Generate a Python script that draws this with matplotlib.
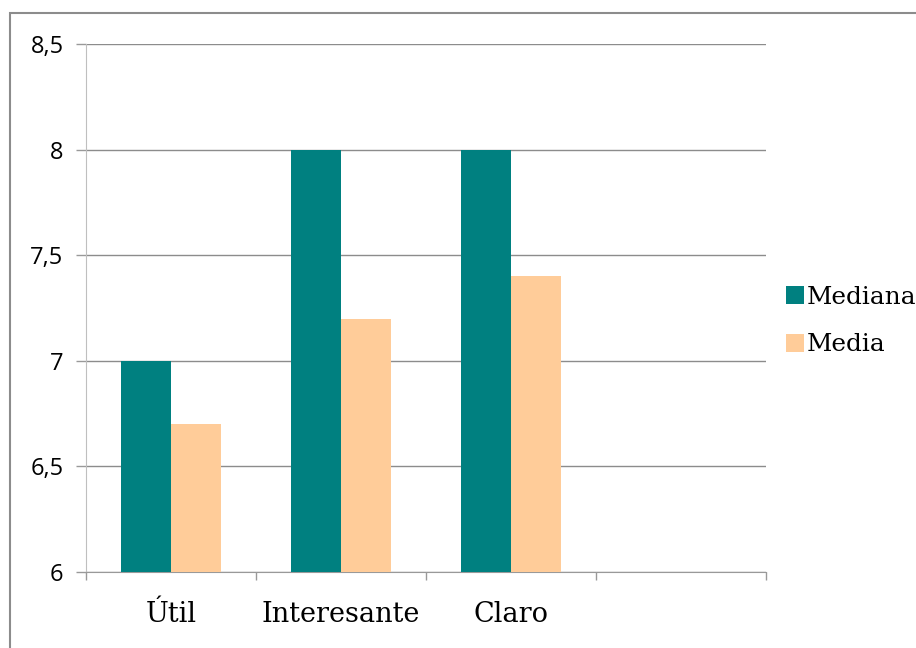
import matplotlib.pyplot as plt
import matplotlib.patches as patches
import numpy as np

# datos
categorias = ["Útil", "Interesante", "Claro"]
mediana = [7, 8, 8]
media = [6.7, 7.2, 7.4]
n_slots = 4  # la cuarta categoria esta vacia
y_ticks = [6, 6.5, 7, 7.5, 8, 8.5]
y_labels = ["6", "6,5", "7", "7,5", "8", "8,5"]

fig = plt.figure(figsize=(9.16, 6.48), dpi=100)
ax = fig.add_axes([86/916, 1 - 572/648, 680/916, 528/648])

x = np.arange(len(categorias))
w = 50/170
ax.bar(x - w/2, np.array(mediana) - 6, width=w, bottom=6, color="#008080", label="Mediana", zorder=3)
ax.bar(x + w/2, np.array(media) - 6, width=w, bottom=6, color="#FFCC99", label="Media", zorder=3)

ax.set_xlim(-0.5, n_slots - 0.5)
ax.set_ylim(6, 8.5)
ax.set_yticks(y_ticks)
ax.set_yticklabels(y_labels, fontsize=17, family="Open Sans")
ax.yaxis.grid(True, color="#8c8c8c", linewidth=1, zorder=0)

ax.set_xticks(np.arange(-0.5, n_slots, 1))
ax.set_xticklabels([])
ax.set_xticks(x, minor=True)
ax.set_xticklabels(categorias, minor=True, fontsize=19.5, family="DejaVu Serif")
ax.tick_params(axis="x", which="minor", length=0, pad=21)
ax.tick_params(axis="x", which="major", length=6, color="#999999", width=1)
ax.tick_params(axis="y", length=7.2, color="#999999", width=1, pad=9)

for s in ["top", "right"]:
    ax.spines[s].set_visible(False)
ax.spines["left"].set_color("#bfbfbf")
ax.spines["bottom"].set_color("#999999")

ax.legend(loc="center left", bbox_to_anchor=(786/916, 1 - 321/648),
          bbox_transform=fig.transFigure, frameon=False,
          prop={"family": "DejaVu Serif", "size": 17.8},
          handlelength=0.72, handleheight=0.72, handletextpad=0.12,
          labelspacing=1.0, borderaxespad=0, borderpad=0)

# marco gris alrededor del grafico (cortado a la derecha y abajo)
fig.patches.append(patches.Rectangle((10/916, -0.1), 2, 1.1 - 13/648,
                                     transform=fig.transFigure, fill=False,
                                     edgecolor="#8c8c8c", linewidth=1.5))

plt.savefig("out.png", dpi=100)
